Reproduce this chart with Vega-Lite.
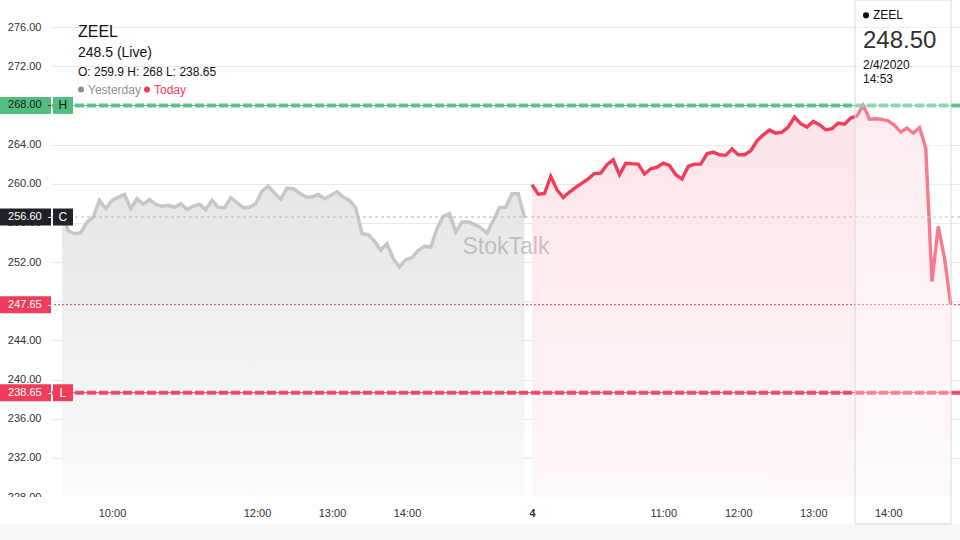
{
  "$schema": "https://vega.github.io/schema/vega-lite/v6.json",
  "width": 908,
  "height": 497,
  "autosize": {"type": "none"},
  "padding": {"left": 52, "top": 0, "right": 0, "bottom": 43},
  "background": "white",
  "config": {"view": {"stroke": null}, "font": "Liberation Sans"},
  "datasets": {
    "series": [
      {"day":"Yesterday","t":0,"p":257.4},{"day":"Yesterday","t":5,"p":255.17},{"day":"Yesterday","t":10,"p":254.9},{"day":"Yesterday","t":15,"p":255.0},{"day":"Yesterday","t":20,"p":256.08},
      {"day":"Yesterday","t":25,"p":256.6},{"day":"Yesterday","t":30,"p":258.3},{"day":"Yesterday","t":35,"p":257.45},{"day":"Yesterday","t":40,"p":258.3},{"day":"Yesterday","t":45,"p":258.6},
      {"day":"Yesterday","t":50,"p":258.9},{"day":"Yesterday","t":55,"p":257.45},{"day":"Yesterday","t":60,"p":258.47},{"day":"Yesterday","t":65,"p":257.9},{"day":"Yesterday","t":70,"p":258.37},
      {"day":"Yesterday","t":75,"p":257.9},{"day":"Yesterday","t":80,"p":257.7},{"day":"Yesterday","t":85,"p":257.8},{"day":"Yesterday","t":90,"p":257.6},{"day":"Yesterday","t":95,"p":257.96},
      {"day":"Yesterday","t":100,"p":257.38},{"day":"Yesterday","t":105,"p":257.7},{"day":"Yesterday","t":110,"p":257.9},{"day":"Yesterday","t":115,"p":257.35},{"day":"Yesterday","t":120,"p":258.3},
      {"day":"Yesterday","t":125,"p":257.6},{"day":"Yesterday","t":130,"p":257.55},{"day":"Yesterday","t":135,"p":258.57},{"day":"Yesterday","t":140,"p":258.06},{"day":"Yesterday","t":145,"p":257.55},
      {"day":"Yesterday","t":150,"p":257.6},{"day":"Yesterday","t":155,"p":257.96},{"day":"Yesterday","t":160,"p":259.25},{"day":"Yesterday","t":165,"p":259.76},{"day":"Yesterday","t":170,"p":259.05},
      {"day":"Yesterday","t":175,"p":258.4},{"day":"Yesterday","t":180,"p":259.56},{"day":"Yesterday","t":185,"p":259.5},{"day":"Yesterday","t":190,"p":259.05},{"day":"Yesterday","t":195,"p":258.64},
      {"day":"Yesterday","t":200,"p":258.64},{"day":"Yesterday","t":205,"p":258.9},{"day":"Yesterday","t":210,"p":258.47},{"day":"Yesterday","t":215,"p":258.8},{"day":"Yesterday","t":220,"p":259.2},
      {"day":"Yesterday","t":225,"p":258.64},{"day":"Yesterday","t":230,"p":258.3},{"day":"Yesterday","t":235,"p":257.55},{"day":"Yesterday","t":240,"p":254.9},{"day":"Yesterday","t":245,"p":254.8},
      {"day":"Yesterday","t":250,"p":254.14},{"day":"Yesterday","t":255,"p":253.2},{"day":"Yesterday","t":260,"p":253.87},{"day":"Yesterday","t":265,"p":252.34},{"day":"Yesterday","t":270,"p":251.5},
      {"day":"Yesterday","t":275,"p":252.24},{"day":"Yesterday","t":280,"p":252.44},{"day":"Yesterday","t":285,"p":253.2},{"day":"Yesterday","t":290,"p":253.6},{"day":"Yesterday","t":295,"p":253.53},
      {"day":"Yesterday","t":300,"p":255.4},{"day":"Yesterday","t":305,"p":256.66},{"day":"Yesterday","t":310,"p":256.94},{"day":"Yesterday","t":315,"p":255.06},{"day":"Yesterday","t":320,"p":256.08},
      {"day":"Yesterday","t":325,"p":256.08},{"day":"Yesterday","t":330,"p":255.85},{"day":"Yesterday","t":335,"p":255.5},{"day":"Yesterday","t":340,"p":254.96},{"day":"Yesterday","t":345,"p":256.25},
      {"day":"Yesterday","t":350,"p":257.55},{"day":"Yesterday","t":355,"p":257.6},{"day":"Yesterday","t":360,"p":258.98},{"day":"Yesterday","t":365,"p":258.98},{"day":"Yesterday","t":370,"p":256.53},
      {"day":"Today","t":376,"p":259.9},{"day":"Today","t":381,"p":258.94},{"day":"Today","t":386,"p":259.0},{"day":"Today","t":391,"p":260.75},{"day":"Today","t":396,"p":259.39},
      {"day":"Today","t":401,"p":258.6},{"day":"Today","t":406,"p":259.15},{"day":"Today","t":411,"p":259.62},{"day":"Today","t":416,"p":260.07},{"day":"Today","t":421,"p":260.5},
      {"day":"Today","t":426,"p":261.05},{"day":"Today","t":431,"p":261.09},{"day":"Today","t":436,"p":261.94},{"day":"Today","t":441,"p":262.45},{"day":"Today","t":446,"p":260.92},
      {"day":"Today","t":451,"p":262.1},{"day":"Today","t":456,"p":262.04},{"day":"Today","t":461,"p":262.0},{"day":"Today","t":466,"p":260.99},{"day":"Today","t":471,"p":261.53},
      {"day":"Today","t":476,"p":261.7},{"day":"Today","t":481,"p":262.1},{"day":"Today","t":486,"p":261.87},{"day":"Today","t":491,"p":260.92},{"day":"Today","t":496,"p":260.48},
      {"day":"Today","t":501,"p":261.77},{"day":"Today","t":506,"p":262.0},{"day":"Today","t":511,"p":262.0},{"day":"Today","t":516,"p":263.06},{"day":"Today","t":521,"p":263.23},
      {"day":"Today","t":526,"p":262.96},{"day":"Today","t":531,"p":262.9},{"day":"Today","t":536,"p":263.57},{"day":"Today","t":541,"p":262.96},{"day":"Today","t":546,"p":262.96},
      {"day":"Today","t":551,"p":263.37},{"day":"Today","t":556,"p":264.39},{"day":"Today","t":561,"p":265.0},{"day":"Today","t":566,"p":265.48},{"day":"Today","t":571,"p":265.17},
      {"day":"Today","t":576,"p":265.28},{"day":"Today","t":581,"p":265.79},{"day":"Today","t":586,"p":266.81},{"day":"Today","t":591,"p":266.13},{"day":"Today","t":596,"p":265.79},
      {"day":"Today","t":601,"p":266.37},{"day":"Today","t":606,"p":266.03},{"day":"Today","t":611,"p":265.51},{"day":"Today","t":616,"p":265.62},{"day":"Today","t":621,"p":266.2},
      {"day":"Today","t":626,"p":266.09},{"day":"Today","t":631,"p":266.71},{"day":"Today","t":636,"p":266.94},{"day":"Today","t":641,"p":268.0},{"day":"Today","t":646,"p":266.6},
      {"day":"Today","t":651,"p":266.64},{"day":"Today","t":656,"p":266.57},{"day":"Today","t":661,"p":266.43},{"day":"Today","t":666,"p":265.96},{"day":"Today","t":671,"p":265.28},
      {"day":"Today","t":676,"p":265.68},{"day":"Today","t":681,"p":265.17},{"day":"Today","t":686,"p":265.75},{"day":"Today","t":691,"p":263.64},{"day":"Today","t":696,"p":250.02},
      {"day":"Today","t":701,"p":255.64},{"day":"Today","t":706,"p":252.41},{"day":"Today","t":711,"p":247.65}
    ],
    "levels": [
      {"kind":"H","price":268,"label":"268.00","letter":"H"},
      {"kind":"C","price":256.6,"label":"256.60","letter":"C"},
      {"kind":"LTP","price":247.65,"label":"247.65","letter":""},
      {"kind":"L","price":238.65,"label":"238.65","letter":"L"}
    ]
  },
  "layer": [
    {
      "data": {"name": "series"},
      "transform": [{"filter": "datum.day === 'Yesterday'"}],
      "mark": {"type": "area", "fillOpacity": 0.9, "color": {"gradient": "linear", "x1": 0, "y1": 0, "x2": 0, "y2": 1, "stops": [{"offset": 0, "color": "#e2e3e5"}, {"offset": 1, "color": "#fafafa"}]}},
      "encoding": {
        "x": {"field": "t", "type": "quantitative", "title": null, "scale": {"domain": [-8, 718.4], "nice": false, "zero": false, "padding": 0},
          "axis": {"title": null, "values": [40, 156, 216, 276, 376, 481, 541, 601, 661],
            "labelExpr": "datum.value == 40 ? '10:00' : datum.value == 156 ? '12:00' : datum.value == 216 ? '13:00' : datum.value == 276 ? '14:00' : datum.value == 376 ? '4' : datum.value == 481 ? '11:00' : datum.value == 541 ? '12:00' : datum.value == 601 ? '13:00' : '14:00'",
            "grid": false, "domain": false, "ticks": false, "labelPadding": 10, "labelFontSize": 11, "labelColor": "#333333", "labelOverlap": false, "labelFlush": false, "zindex": 1,
            "labelFontWeight": {"condition": {"test": "datum.value == 376", "value": "bold"}, "value": "normal"}}},
        "y": {"field": "p", "type": "quantitative", "title": null, "scale": {"domain": [228, 278.77], "nice": false, "zero": false, "padding": 0},
          "axis": {"title": null, "values": [228, 232, 236, 240, 244, 248, 252, 256, 260, 264, 268, 272, 276], "format": ".2f",
            "grid": true, "gridColor": "#e8e8e8", "domain": false, "ticks": false, "labelPadding": 11, "labelFontSize": 11, "labelColor": "#333333", "zindex": 0}},
        "y2": {"datum": 228}
      }
    },
    {
      "data": {"name": "series"},
      "transform": [{"filter": "datum.day === 'Today'"}],
      "mark": {"type": "area", "fillOpacity": 0.9, "color": {"gradient": "linear", "x1": 0, "y1": 0, "x2": 0, "y2": 1, "stops": [{"offset": 0, "color": "#fde0e5"}, {"offset": 1, "color": "#fef7f8"}]}},
      "encoding": {
        "x": {"field": "t", "type": "quantitative", "title": null},
        "y": {"field": "p", "type": "quantitative", "title": null},
        "y2": {"datum": 228}
      }
    },
    {
      "data": {"name": "series"},
      "transform": [{"filter": "datum.day === 'Yesterday'"}],
      "mark": {"type": "line", "stroke": "#c5c6c8", "strokeWidth": 3.5},
      "encoding": {
        "x": {"field": "t", "type": "quantitative", "title": null},
        "y": {"field": "p", "type": "quantitative", "title": null}
      }
    },
    {
      "data": {"name": "series"},
      "transform": [{"filter": "datum.day === 'Today'"}],
      "mark": {"type": "line", "stroke": "#f23d58", "strokeWidth": 3.4},
      "encoding": {
        "x": {"field": "t", "type": "quantitative", "title": null},
        "y": {"field": "p", "type": "quantitative", "title": null}
      }
    },
    {
      "data": {"name": "levels"},
      "transform": [{"filter": "datum.kind === 'H' || datum.kind === 'L'"}],
      "mark": {"type": "rule", "strokeWidth": 1},
      "encoding": {
        "y": {"field": "price", "type": "quantitative", "title": null},
        "color": {"condition": {"test": "datum.kind === 'H'", "value": "#52be80"}, "value": "#f03e5a"}
      }
    },
    {
      "data": {"name": "levels"},
      "transform": [{"filter": "datum.kind === 'H' || datum.kind === 'L'"}],
      "mark": {"type": "rule", "strokeWidth": 4, "strokeDash": [9, 3], "opacity": 0.9},
      "encoding": {
        "y": {"field": "price", "type": "quantitative", "title": null},
        "color": {"condition": {"test": "datum.kind === 'H'", "value": "#52be80"}, "value": "#f03e5a"}
      }
    },
    {
      "data": {"name": "levels"},
      "transform": [{"filter": "datum.kind === 'C'"}],
      "mark": {"type": "rule", "strokeWidth": 1, "strokeDash": [3, 3], "color": "#b4b4b4"},
      "encoding": {"y": {"field": "price", "type": "quantitative", "title": null}}
    },
    {
      "data": {"name": "levels"},
      "transform": [{"filter": "datum.kind === 'LTP'"}],
      "mark": {"type": "rule", "strokeWidth": 1, "strokeDash": [2, 2], "color": "#f03e5a"},
      "encoding": {"y": {"field": "price", "type": "quantitative", "title": null}}
    },
    {
      "data": {"values": [{"text": "StokTalk"}]},
      "mark": {"type": "text", "fontSize": 23, "color": "#9a9a9a", "opacity": 0.55, "align": "center", "baseline": "middle"},
      "encoding": {
        "x": {"datum": 355.2, "type": "quantitative", "title": null},
        "y": {"datum": 253.55, "type": "quantitative", "title": null},
        "text": {"field": "text"}
      }
    },
    {
      "data": {"values": [{"band": "axis"}]},
      "mark": {"type": "rect", "color": "white"},
      "encoding": {
        "x": {"datum": -49.6, "type": "quantitative", "title": null},
        "x2": {"datum": 718.4},
        "y": {"datum": 228, "type": "quantitative", "title": null},
        "y2": {"datum": 225.24}
      }
    },
    {
      "data": {"values": [{"band": "footer"}]},
      "mark": {"type": "rect", "color": "#f7f8fa"},
      "encoding": {
        "x": {"datum": -49.6, "type": "quantitative", "title": null},
        "x2": {"datum": 718.4},
        "y": {"datum": 225.24, "type": "quantitative", "title": null},
        "y2": {"datum": 223.61}
      }
    },
    {
      "data": {"values": [{"box": "tooltip"}]},
      "mark": {"type": "rect", "fill": "white", "fillOpacity": 0.32, "stroke": "#d6d8db", "strokeWidth": 1},
      "encoding": {
        "x": {"datum": 634.4, "type": "quantitative", "title": null},
        "x2": {"datum": 711.2},
        "y": {"datum": 278.77, "type": "quantitative", "title": null},
        "y2": {"datum": 225.24}
      }
    },
    {
      "data": {"values": [{"s": "ZEEL"}]},
      "mark": {"type": "point", "filled": true, "color": "#111111", "size": 38, "opacity": 1},
      "encoding": {
        "x": {"datum": 643.2, "type": "quantitative", "title": null},
        "y": {"datum": 277.2, "type": "quantitative", "title": null}
      }
    },
    {
      "data": {"values": [{"text": "ZEEL"}]},
      "mark": {"type": "text", "fontSize": 12, "color": "#111111", "align": "left", "baseline": "middle"},
      "encoding": {
        "x": {"datum": 648.8, "type": "quantitative", "title": null},
        "y": {"datum": 277.2, "type": "quantitative", "title": null},
        "text": {"field": "text"}
      }
    },
    {
      "data": {"values": [{"text": "248.50"}]},
      "mark": {"type": "text", "fontSize": 24, "color": "#2f3133", "align": "left", "baseline": "middle"},
      "encoding": {
        "x": {"datum": 640.8, "type": "quantitative", "title": null},
        "y": {"datum": 274.6, "type": "quantitative", "title": null},
        "text": {"field": "text"}
      }
    },
    {
      "data": {"values": [{"text": "2/4/2020"}]},
      "mark": {"type": "text", "fontSize": 12, "color": "#111111", "align": "left", "baseline": "middle"},
      "encoding": {
        "x": {"datum": 640.8, "type": "quantitative", "title": null},
        "y": {"datum": 272.15, "type": "quantitative", "title": null},
        "text": {"field": "text"}
      }
    },
    {
      "data": {"values": [{"text": "14:53"}]},
      "mark": {"type": "text", "fontSize": 12, "color": "#111111", "align": "left", "baseline": "middle"},
      "encoding": {
        "x": {"datum": 640.8, "type": "quantitative", "title": null},
        "y": {"datum": 270.72, "type": "quantitative", "title": null},
        "text": {"field": "text"}
      }
    },
    {
      "data": {"values": [{"text": "ZEEL"}]},
      "mark": {"type": "text", "fontSize": 16, "color": "#111111", "align": "left", "baseline": "middle"},
      "encoding": {
        "x": {"datum": 12.8, "type": "quantitative", "title": null},
        "y": {"datum": 275.5, "type": "quantitative", "title": null},
        "text": {"field": "text"}
      }
    },
    {
      "data": {"values": [{"text": "248.5 (Live)"}]},
      "mark": {"type": "text", "fontSize": 14, "color": "#111111", "align": "left", "baseline": "middle"},
      "encoding": {
        "x": {"datum": 12.8, "type": "quantitative", "title": null},
        "y": {"datum": 273.36, "type": "quantitative", "title": null},
        "text": {"field": "text"}
      }
    },
    {
      "data": {"values": [{"text": "O: 259.9 H: 268 L: 238.65"}]},
      "mark": {"type": "text", "fontSize": 12, "color": "#111111", "align": "left", "baseline": "middle"},
      "encoding": {
        "x": {"datum": 12.8, "type": "quantitative", "title": null},
        "y": {"datum": 271.45, "type": "quantitative", "title": null},
        "text": {"field": "text"}
      }
    },
    {
      "data": {"values": [{"s": "Yesterday"}]},
      "mark": {"type": "point", "filled": true, "color": "#8e9094", "size": 36, "opacity": 1},
      "encoding": {
        "x": {"datum": 15.2, "type": "quantitative", "title": null},
        "y": {"datum": 269.62, "type": "quantitative", "title": null}
      }
    },
    {
      "data": {"values": [{"text": "Yesterday"}]},
      "mark": {"type": "text", "fontSize": 12, "color": "#8e9094", "align": "left", "baseline": "middle"},
      "encoding": {
        "x": {"datum": 20.8, "type": "quantitative", "title": null},
        "y": {"datum": 269.62, "type": "quantitative", "title": null},
        "text": {"field": "text"}
      }
    },
    {
      "data": {"values": [{"s": "Today"}]},
      "mark": {"type": "point", "filled": true, "color": "#f03e5a", "size": 36, "opacity": 1},
      "encoding": {
        "x": {"datum": 68, "type": "quantitative", "title": null},
        "y": {"datum": 269.62, "type": "quantitative", "title": null}
      }
    },
    {
      "data": {"values": [{"text": "Today"}]},
      "mark": {"type": "text", "fontSize": 12, "color": "#f03e5a", "align": "left", "baseline": "middle"},
      "encoding": {
        "x": {"datum": 73.6, "type": "quantitative", "title": null},
        "y": {"datum": 269.62, "type": "quantitative", "title": null},
        "text": {"field": "text"}
      }
    },
    {
      "data": {"name": "levels"},
      "mark": {"type": "bar", "orient": "horizontal", "size": 17},
      "encoding": {
        "x": {"datum": -49.6, "type": "quantitative", "title": null},
        "x2": {"datum": -8.8},
        "y": {"field": "price", "type": "quantitative", "title": null},
        "color": {"condition": [{"test": "datum.kind === 'H'", "value": "#52be80"}, {"test": "datum.kind === 'C'", "value": "#1f2329"}], "value": "#f03e5a"}
      }
    },
    {
      "data": {"name": "levels"},
      "transform": [{"filter": "datum.letter !== ''"}],
      "mark": {"type": "bar", "orient": "horizontal", "size": 17},
      "encoding": {
        "x": {"datum": -7.2, "type": "quantitative", "title": null},
        "x2": {"datum": 8.8},
        "y": {"field": "price", "type": "quantitative", "title": null},
        "color": {"condition": [{"test": "datum.kind === 'H'", "value": "#52be80"}, {"test": "datum.kind === 'C'", "value": "#1f2329"}], "value": "#f03e5a"}
      }
    },
    {
      "data": {"name": "levels"},
      "mark": {"type": "text", "fontSize": 11, "align": "right", "baseline": "middle"},
      "encoding": {
        "x": {"datum": -16.2, "type": "quantitative", "title": null},
        "y": {"field": "price", "type": "quantitative", "title": null},
        "text": {"field": "label"},
        "color": {"condition": {"test": "datum.kind === 'H'", "value": "#1a1a1a"}, "value": "#ffffff"}
      }
    },
    {
      "data": {"name": "levels"},
      "mark": {"type": "text", "fontSize": 11, "align": "center", "baseline": "middle"},
      "encoding": {
        "x": {"datum": -10, "type": "quantitative", "title": null},
        "y": {"field": "price", "type": "quantitative", "title": null},
        "text": {"value": "-"},
        "color": {"condition": {"test": "datum.kind === 'H'", "value": "#1a1a1a"}, "value": "#ffffff"}
      }
    },
    {
      "data": {"name": "levels"},
      "transform": [{"filter": "datum.letter !== ''"}],
      "mark": {"type": "text", "fontSize": 12, "align": "center", "baseline": "middle"},
      "encoding": {
        "x": {"datum": 0.6, "type": "quantitative", "title": null},
        "y": {"field": "price", "type": "quantitative", "title": null},
        "text": {"field": "letter"},
        "color": {"condition": {"test": "datum.kind === 'H'", "value": "#1a1a1a"}, "value": "#ffffff"}
      }
    }
  ]
}
